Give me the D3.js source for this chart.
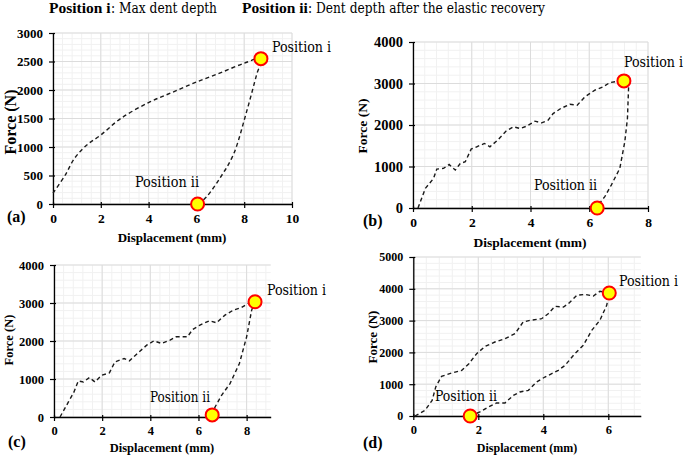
<!DOCTYPE html>
<html><head><meta charset="utf-8">
<script src="https://cdn.jsdelivr.net/npm/d3@7"></script>
<style>
html,body{margin:0;padding:0;background:#fff;}
svg{display:block;}
</style></head>
<body>
<svg id="c" width="685" height="455"></svg>
<script>
// ---------- DATA ----------
const panelLabels = ["(a)", "(b)", "(c)", "(d)"];
const xTicksA = [0, 2, 4, 6, 8, 10];
const yTicksA = [0, 500, 1000, 1500, 2000, 2500, 3000];
const xTicksB = [0, 2, 4, 6, 8];
const yTicksB = [0, 1000, 2000, 3000, 4000];
const xTicksC = [0, 2, 4, 6, 8];
const yTicksC = [0, 1000, 2000, 3000, 4000];
const xTicksD = [0, 2, 4, 6];
const yTicksD = [0, 1000, 2000, 3000, 4000, 5000];

// (a) displacement (mm) / force (N)
const dispA  = [0, 0.5, 0.9, 1.4, 2.0, 2.8, 4.0, 5.0, 6.0, 7.0, 8.0, 8.7, 8.52, 8.1, 7.54, 6.99, 6.43, 6.1];
const forceA = [190, 500, 800, 1030, 1210, 1490, 1780, 1960, 2140, 2300, 2470, 2550, 2270, 1620, 860, 457, 128, 0];
// (b)
const dispB  = [0.17, 0.42, 0.70, 0.81, 1.04, 1.23, 1.44, 1.61, 1.78, 1.98, 2.17, 2.43, 2.62, 2.88, 3.17, 3.42, 3.64, 3.87, 4.15, 4.38, 4.60, 4.77, 5.03, 5.34, 5.59, 5.85, 6.19, 6.47, 6.70, 6.98, 7.18, 7.34, 7.30, 7.21, 7.04, 6.75, 6.53, 6.30, 6.27];
const forceB = [0, 473, 713, 938, 954, 1050, 914, 1074, 1114, 1419, 1475, 1555, 1475, 1635, 1852, 1956, 1916, 1972, 2092, 2052, 2116, 2276, 2397, 2501, 2477, 2677, 2838, 2918, 3022, 3054, 3062, 2918, 2156, 1595, 954, 553, 273, 72, 0];
// (c)
const dispC  = [0.25, 0.60, 0.83, 1.01, 1.22, 1.47, 1.70, 1.98, 2.30, 2.53, 2.91, 3.13, 3.43, 3.85, 4.15, 4.47, 4.82, 5.07, 5.54, 5.76, 6.06, 6.45, 6.75, 7.10, 7.45, 7.79, 8.11, 8.35, 8.21, 8.00, 7.70, 7.31, 6.96, 6.69, 6.57];
const forceC = [0, 396, 659, 949, 923, 1037, 923, 1099, 1160, 1450, 1538, 1477, 1653, 1890, 2004, 1934, 2022, 2110, 2110, 2303, 2418, 2532, 2479, 2681, 2813, 2883, 3006, 3033, 2813, 2110, 1407, 879, 571, 264, 62];
// (d)
const dispD  = [0.05, 0.36, 0.58, 0.69, 0.87, 1.18, 1.49, 1.71, 1.95, 2.21, 2.51, 2.82, 3.13, 3.38, 3.59, 3.95, 4.15, 4.36, 4.62, 4.77, 5.03, 5.28, 5.54, 5.74, 6.03, 5.95, 5.74, 5.49, 5.23, 4.97, 4.67, 4.46, 4.26, 4.05, 3.79, 3.54, 3.28, 3.08, 2.82, 2.56, 2.31, 2.05, 1.85, 1.75];
const forceD = [0, 178, 493, 912, 1247, 1352, 1436, 1645, 1960, 2190, 2327, 2431, 2589, 2955, 3008, 3060, 3217, 3448, 3427, 3532, 3794, 3825, 3773, 3920, 3868, 3479, 3008, 2693, 2222, 1960, 1593, 1436, 1331, 1226, 1069, 807, 755, 650, 409, 409, 283, 126, 42, 0];

// marker positions [Position i, Position ii]
const markDisp  = [[8.7, 6.05], [7.18, 6.27], [8.35, 6.57], [6.03, 1.75]];
const markForce = [[2550, 0], [3062, 0], [3033, 55], [3868, 0]];

// ---------- DRAW ----------
const SERIF = "'Liberation Serif', 'Times New Roman', serif";
const SERIF_REG = "'DejaVu Serif Condensed', 'DejaVu Serif', 'Liberation Serif', serif";
const svg = d3.select("#c").attr("font-family", SERIF);

// header
svg.append("text").attr("x", 49).attr("y", 13).attr("font-size", 15.5).attr("font-family", SERIF)
  .attr("font-weight", "bold").text("Position i");
svg.append("text").attr("x", 111).attr("y", 13).attr("font-size", 14).attr("font-family", SERIF_REG)
  .attr("textLength", 106).attr("lengthAdjust", "spacingAndGlyphs").text(": Max dent depth");
svg.append("text").attr("x", 242).attr("y", 13).attr("font-size", 15.5).attr("font-family", SERIF)
  .attr("font-weight", "bold").text("Position ii");
svg.append("text").attr("x", 308).attr("y", 13).attr("font-size", 14).attr("font-family", SERIF_REG)
  .attr("textLength", 237).attr("lengthAdjust", "spacingAndGlyphs").text(": Dent depth after the elastic recovery");

const panels = [
  {disp: dispA, force: forceA, xd: [0, 10], yd: [0, 3000], xt: xTicksA, yt: yTicksA,
   x0: 53, x1: 292, y0: 204, y1: 33, lab: [7, 222], xl: [172, 242], yl: [10, 122],
   pi: [272, 52, 59], pii: [135, 187, 64], fs: 13, yfs: 13, xfs: 13.5, tfs: 16},
  {disp: dispB, force: forceB, xd: [0, 8], yd: [0, 4000], xt: xTicksB, yt: yTicksB,
   x0: 413, x1: 648, y0: 208, y1: 42, lab: [363, 226], xl: [530, 247], yl: [362, 126],
   pi: [624, 67, 59], pii: [534, 190, 63], fs: 13.5, yfs: 14.5, xfs: 13.5, tfs: 13.5},
  {disp: dispC, force: forceC, xd: [0, 9], yd: [0, 4000], xt: xTicksC, yt: yTicksC,
   x0: 54, x1: 270.7, y0: 417, y1: 265, lab: [8, 447], xl: [162, 452], yl: [9, 340],
   pi: [267, 295, 59], pii: [150, 402, 60], fs: 12.5, yfs: 12.5, xfs: 12.5, tfs: 12.5},
  {disp: dispD, force: forceD, xd: [0, 7], yd: [0, 5000], xt: xTicksD, yt: yTicksD,
   x0: 413.3, x1: 640.8, y0: 416, y1: 257, lab: [363, 448], xl: [527, 452], yl: [372, 337],
   pi: [619, 286, 59], pii: [435, 401, 62], fs: 12, yfs: 12, xfs: 12.5, tfs: 13}
];

panels.forEach((p, k) => {
  const x = d3.scaleLinear().domain(p.xd).range([p.x0, p.x1]);
  const y = d3.scaleLinear().domain(p.yd).range([p.y0, p.y1]);
  const g = svg.append("g");

  // minor grid
  const xStep = p.xt[1] - p.xt[0], yStep = p.yt[1] - p.yt[0];
  const xMinor = d3.range(p.xd[0], p.xd[1] + 1e-9, xStep / 5);
  const yMinor = d3.range(p.yd[0], p.yd[1] + 1e-9, yStep / 5);
  g.selectAll(".mx").data(xMinor).join("line")
    .attr("x1", d => x(d)).attr("x2", d => x(d)).attr("y1", p.y0).attr("y2", p.y1)
    .attr("stroke", "#f1f1f1").attr("stroke-width", 1);
  g.selectAll(".my").data(yMinor).join("line")
    .attr("y1", d => y(d)).attr("y2", d => y(d)).attr("x1", p.x0).attr("x2", p.x1)
    .attr("stroke", "#f1f1f1").attr("stroke-width", 1);
  // major grid
  g.selectAll(".gx").data(p.xt).join("line")
    .attr("x1", d => x(d)).attr("x2", d => x(d)).attr("y1", p.y0).attr("y2", p.y1)
    .attr("stroke", "#dcdcdc").attr("stroke-width", 1);
  g.selectAll(".gy").data(p.yt).join("line")
    .attr("y1", d => y(d)).attr("y2", d => y(d)).attr("x1", p.x0).attr("x2", p.x1)
    .attr("stroke", "#dcdcdc").attr("stroke-width", 1);

  // axes
  const xa = g.append("g").attr("transform", `translate(0,${p.y0})`)
    .call(d3.axisBottom(x).tickValues(p.xt).tickSize(4).tickSizeOuter(0).tickPadding(5).tickFormat(d3.format("d")));
  const ya = g.append("g").attr("transform", `translate(${p.x0},0)`)
    .call(d3.axisLeft(y).tickValues(p.yt).tickSize(4).tickSizeOuter(0).tickPadding(6).tickFormat(d3.format("d")));
  [xa, ya].forEach((a, ai) => {
    a.attr("font-family", SERIF);
    a.select(".domain").attr("stroke", "#000").attr("stroke-width", 1.3);
    a.selectAll(".tick line").attr("stroke", "#000").attr("stroke-width", 1.2);
    a.selectAll(".tick text").attr("font-family", SERIF)
      .attr("font-weight", "bold").attr("font-size", ai === 0 ? p.xfs : p.yfs).attr("fill", "#000");
  });
  xa.selectAll(".tick line").attr("y1", -2);
  ya.selectAll(".tick line").attr("x1", 2).attr("x2", -4);

  // axis titles
  g.append("text").attr("x", p.xl[0]).attr("y", p.xl[1]).attr("text-anchor", "middle")
    .attr("font-family", SERIF).attr("font-weight", "bold").attr("font-size", p.fs).text("Displacement (mm)");
  g.append("text").attr("transform", `translate(${p.yl[0]},${p.yl[1]}) rotate(-90)`)
    .attr("text-anchor", "middle").attr("dy", "0.35em")
    .attr("font-family", SERIF).attr("font-weight", "bold").attr("font-size", p.tfs).text("Force (N)");
  g.append("text").attr("x", p.lab[0]).attr("y", p.lab[1])
    .attr("font-family", SERIF).attr("font-weight", "bold").attr("font-size", 16).text(panelLabels[k]);

  // curve
  const pts = p.disp.map((d, i) => [d, p.force[i]]);
  const line = d3.line().x(d => x(d[0])).y(d => y(d[1]))
    .curve(k === 0 ? d3.curveCatmullRom.alpha(0.5) : d3.curveLinear);
  g.append("path").attr("d", line(pts)).attr("fill", "none")
    .attr("stroke", "#1a1a1a").attr("stroke-width", 1.4).attr("stroke-dasharray", "4,3");

  // markers
  markDisp[k].forEach((d, i) => {
    g.append("circle").attr("cx", x(d)).attr("cy", y(markForce[k][i])).attr("r", 6.5)
      .attr("fill", "#ffff00").attr("stroke", "#ff0000").attr("stroke-width", 2);
  });
  g.append("text").attr("x", p.pi[0]).attr("y", p.pi[1]).attr("font-size", 14)
    .attr("font-family", SERIF_REG).attr("textLength", p.pi[2]).attr("lengthAdjust", "spacingAndGlyphs").text("Position i");
  g.append("text").attr("x", p.pii[0]).attr("y", p.pii[1]).attr("font-size", 14)
    .attr("font-family", SERIF_REG).attr("textLength", p.pii[2]).attr("lengthAdjust", "spacingAndGlyphs").text("Position ii");
});
</script>
</body></html>
